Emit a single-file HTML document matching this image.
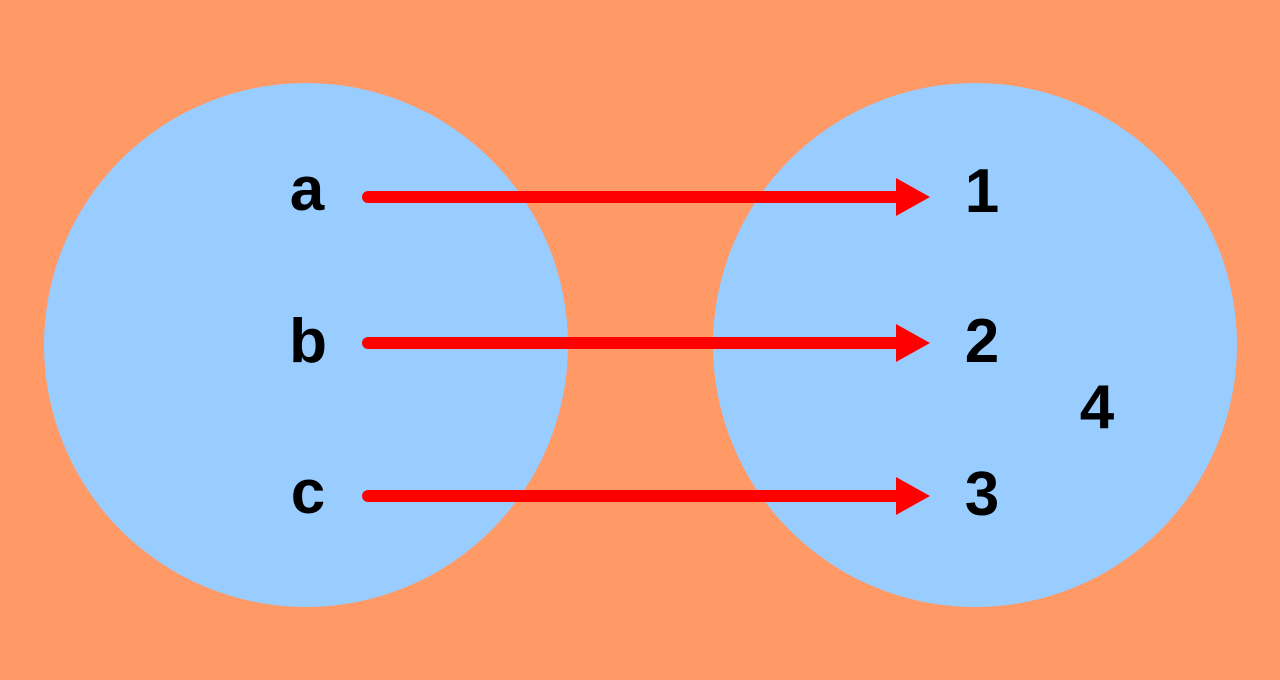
<!DOCTYPE html>
<html><head><meta charset="utf-8"><style>html,body{margin:0;padding:0;background:#FF9966;overflow:hidden;width:1280px;height:680px;}svg{display:block;}</style></head>
<body>
<svg width="1280" height="680" viewBox="0 0 1280 680" xmlns="http://www.w3.org/2000/svg">
<rect width="1280" height="680" fill="#FF9966"/>
<circle cx="306" cy="345" r="262" fill="#99CCFF"/>
<circle cx="975" cy="345" r="262" fill="#99CCFF"/>
<g stroke="#FF0000" stroke-width="12" stroke-linecap="round">
<line x1="368" y1="197" x2="900" y2="197"/>
<line x1="368" y1="343" x2="900" y2="343"/>
<line x1="368" y1="496" x2="900" y2="496"/>
</g>
<g fill="#FF0000">
<polygon points="896,178 930,197 896,216"/>
<polygon points="896,324 930,343 896,362"/>
<polygon points="896,477 930,496 896,515"/>
</g>
<g font-family="Liberation Sans, sans-serif" font-weight="bold" font-size="62" text-anchor="middle" fill="#000">
<text x="307" y="210">a</text>
<text x="308" y="362">b</text>
<text x="308" y="513">c</text>
<text x="982" y="212">1</text>
<text x="982" y="362">2</text>
<text x="982" y="515">3</text>
<text x="1097" y="428">4</text>
</g>
</svg>
</body></html>
